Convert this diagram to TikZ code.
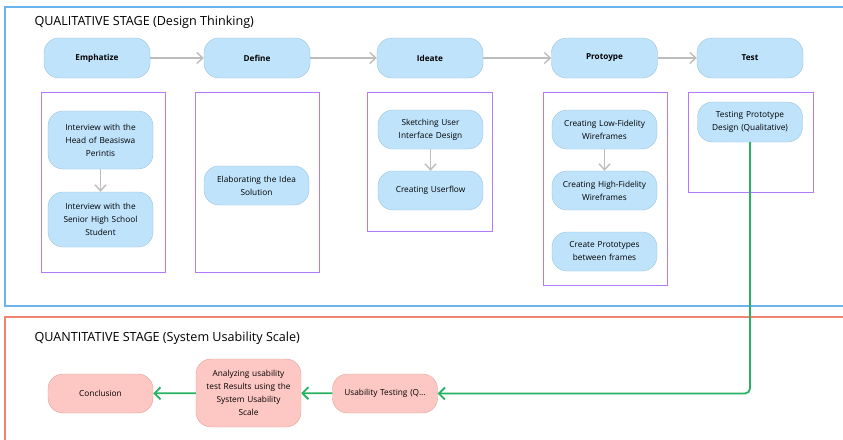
\documentclass[tikz,border=0pt]{standalone}
\usepackage{fontspec}
\setmainfont{Open Sans}
\usetikzlibrary{arrows.meta}
\definecolor{qualframe}{HTML}{6CB4F0}
\definecolor{quanframe}{HTML}{EE8570}
\definecolor{groupline}{HTML}{B47AFB}
\definecolor{bluefill}{HTML}{BEE3FB}
\definecolor{blueline}{HTML}{9CC3DD}
\definecolor{pinkfill}{HTML}{FDC8C3}
\definecolor{pinkline}{HTML}{E0A29C}
\definecolor{flowgray}{HTML}{BDBDBD}
\definecolor{flowgreen}{HTML}{27B262}

\begin{document}
\begin{tikzpicture}[x=1pt,y=-1pt,
    stage/.style={rectangle,rounded corners=15pt,draw=blueline,fill=bluefill,
        minimum width=106pt,minimum height=40pt,inner sep=2pt,
        font=\bfseries\fontsize{8.2}{10}\selectfont},
    task/.style={rectangle,rounded corners=15pt,draw=blueline,fill=bluefill,
        minimum width=105pt,text width=101pt,align=center,inner sep=2pt,
        font=\fontsize{8.3}{13}\selectfont},
    result/.style={task,draw=pinkline,fill=pinkfill},
    group/.style={draw=groupline,line width=0.9pt},
    grayflow/.style={draw=flowgray,line width=1.4pt,-{Straight Barb[length=6pt,width=11pt]}},
    greenflow/.style={draw=flowgreen,line width=1.8pt,-{Straight Barb[length=6pt,width=12pt]}},
    heading/.style={anchor=west,font=\fontsize{12.6}{15}\selectfont}]
\clip (0,0) rectangle (843,439);
\fill[white] (0,0) rectangle (843,439);

% stage frames
\draw[qualframe,line width=1.3pt] (5,7) rectangle (860,306);
\draw[quanframe,line width=1.3pt] (5,317) rectangle (860,460);
\node[heading] (qualtitle) at (31,22) {QUALITATIVE STAGE (Design Thinking)};
\node[heading] (quantitle) at (31,338) {QUANTITATIVE STAGE (System Usability Scale)};

% groups
\draw[group] (41,92) rectangle (165,272);
\draw[group] (195,92) rectangle (319,272);
\draw[group] (367,92) rectangle (492,231);
\draw[group] (543,92) rectangle (667,285);
\draw[group] (688,92) rectangle (813,192);

% design thinking steps
\node[stage] (emphatize) at (97,58) {Emphatize};
\node[stage] (define) at (257,58) {Define};
\node[stage] (ideate) at (430,58) {Ideate};
\node[stage] (prototype) at (604.5,58) {Protoype};
\node[stage] (test) at (750,58) {Test};

\draw[grayflow] (emphatize) -- (define);
\draw[grayflow] (define) -- (ideate);
\draw[grayflow] (ideate) -- (prototype);
\draw[grayflow] (prototype) -- (test);

\node[task,minimum height=58pt] (head) at (100.5,140) {Interview with the\\ Head of Beasiswa\\ Perintis};
\node[task,minimum height=55pt] (senior) at (100.5,219.5) {Interview with the\\ Senior High School\\ Student};
\node[task,minimum height=39pt] (elaborate) at (256.5,185.5) {Elaborating the Idea\\ Solution};
\node[task,minimum height=39pt] (sketch) at (430.5,129.5) {Sketching User\\ Interface Design};
\node[task,minimum height=39pt] (userflow) at (430.5,190.5) {Creating Userflow};
\node[task,minimum height=39pt] (lowfi) at (604.5,129.5) {Creating Low-Fidelity\\ Wireframes};
\node[task,minimum height=39pt] (highfi) at (604.5,190.5) {Creating High-Fidelity\\ Wireframes};
\node[task,minimum height=39pt] (frames) at (604.5,251.5) {Create Prototypes\\ between frames};
\node[task,minimum height=40pt] (testing) at (750,122) {Testing Prototype\\ Design (Qualitative)};

\draw[grayflow] (head) -- (senior);
\draw[grayflow] (sketch) -- (userflow);
\draw[grayflow] (lowfi) -- (highfi);

% usability scale
\node[result,minimum height=39pt] (conclusion) at (100.5,393.5) {Conclusion};
\node[result,minimum height=68pt] (analyze) at (248.5,393) {Analyzing usability\\ test Results using the\\ System Usability\\ Scale};
\node[result,minimum height=39pt] (usability) at (385,393.5) {Usability Testing (Q…};

\draw[greenflow,rounded corners=5pt] (testing.south) |- (usability.east);
\draw[greenflow] (usability) -- (analyze);
\draw[greenflow] (analyze) -- (conclusion);

\end{tikzpicture}
\end{document}
